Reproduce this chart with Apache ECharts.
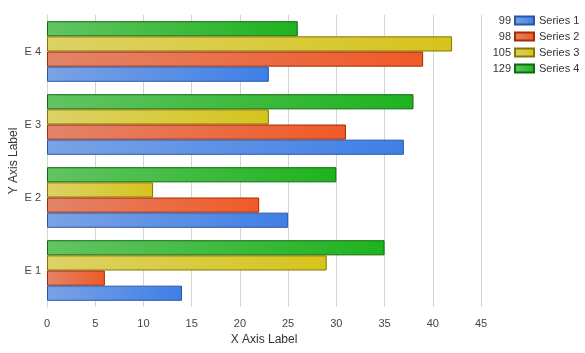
<!DOCTYPE html>
<html>
<head>
<meta charset="utf-8">
<script src="https://cdn.jsdelivr.net/npm/echarts@6/dist/echarts.min.js"></script>
<style>
    html, body {margin: 0; padding: 0; background: #fff;}
    #chart {width: 585px; height: 353px;}
</style>
</head>
<body>
<div id="chart"></div>
<script>
// data
var categories = ['E 1', 'E 2', 'E 3', 'E 4'];
var seriesNames = ['Series 1', 'Series 2', 'Series 3', 'Series 4'];
var series1 = [14, 25, 37, 23];
var series2 = [6, 22, 31, 39];
var series3 = [29, 11, 23, 42];
var series4 = [35, 30, 38, 26];
var xTicks = [0, 5, 10, 15, 20, 25, 30, 35, 40, 45];

// colours: [light, base, border]
var palette = [
    ['#7aa3e4', '#3f7fe6', '#2a56a6'],
    ['#e2846a', '#f05a26', '#a62a08'],
    ['#dcd266', '#d6c41c', '#857800'],
    ['#62c462', '#1eb31e', '#0e6a0e']
];

var allData = [series1, series2, series3, series4];
var font = 'Liberation Sans, Arial, sans-serif';

function sum(arr) {
    return arr.reduce(function (a, b) { return a + b; }, 0);
}

var chart = echarts.init(document.getElementById('chart'));

var series = allData.map(function (d, i) {
    return {
        name: seriesNames[i],
        type: 'bar',
        data: d,
        barGap: '0%',
        barCategoryGap: '17%',
        itemStyle: {
            color: new echarts.graphic.LinearGradient(0, 0, 1, 0, [
                {offset: 0, color: palette[i][0]},
                {offset: 1, color: palette[i][1]}
            ]),
            borderColor: palette[i][2],
            borderWidth: 1
        }
    };
});
// series 1 sits at the bottom of each group, so stack them top-down
series.reverse();

// totals shown left of each legend icon
var rowTop = 15, rowStep = 16;
var totals = allData.map(function (d, i) {
    return {
        type: 'text',
        right: 585 - 511,
        top: rowTop + i * rowStep,
        style: {
            text: String(sum(d)),
            fill: '#333',
            font: '11px ' + font,
            align: 'right'
        }
    };
});

chart.setOption({
    animation: false,
    grid: {left: 47, right: 104, top: 15, bottom: 46, outerBoundsMode: 'none', containLabel: false},
    legend: {
        orient: 'vertical',
        left: 514,
        top: rowTop,
        padding: 0,
        itemWidth: 19,
        itemHeight: 8,
        itemGap: 5,
        icon: 'rect',
        data: seriesNames,
        textStyle: {color: '#333', fontSize: 11, fontFamily: font}
    },
    graphic: totals,
    xAxis: {
        type: 'value',
        min: xTicks[0],
        max: xTicks[xTicks.length - 1],
        interval: 5,
        name: 'X Axis Label',
        nameLocation: 'middle',
        nameGap: 26,
        nameTextStyle: {color: '#333', fontSize: 12, fontFamily: font},
        axisLine: {show: false},
        axisTick: {show: false},
        axisLabel: {color: '#444', fontSize: 11, fontFamily: font, margin: 11},
        splitLine: {lineStyle: {color: '#d4d4d4', width: 1}}
    },
    yAxis: {
        type: 'category',
        data: categories,
        name: 'Y Axis Label',
        nameLocation: 'middle',
        nameGap: 27,
        nameRotate: 90,
        nameMoveOverlap: false,
        nameTextStyle: {color: '#333', fontSize: 12, fontFamily: font},
        axisLine: {lineStyle: {color: '#d4d4d4'}},
        axisTick: {alignWithLabel: true, length: 4, lineStyle: {color: '#bbb'}},
        axisLabel: {color: '#444', fontSize: 11, fontFamily: font, margin: 6}
    },
    series: series
});
</script>
</body>
</html>
